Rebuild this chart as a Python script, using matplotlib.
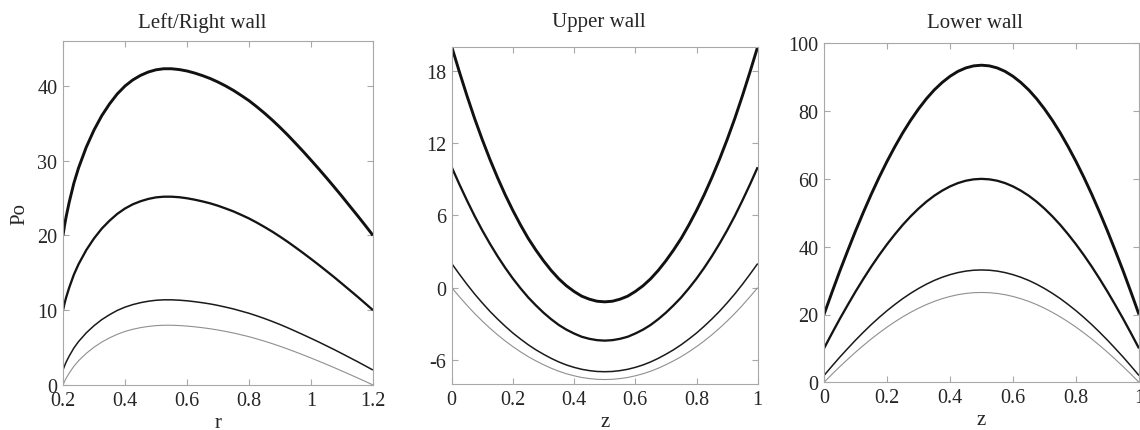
import matplotlib
matplotlib.use("Agg")
import matplotlib.pyplot as plt
from matplotlib.ticker import FuncFormatter

plt.rcParams['font.family'] = ['Liberation Serif', 'DejaVu Serif']
plt.rcParams['axes.unicode_minus'] = False

# ---- Left/Right wall: Po against r ----
r = [0.2, 0.205, 0.21, 0.22, 0.235, 0.25, 0.275, 0.3, 0.325, 0.35, 0.375, 0.4,
     0.425, 0.45, 0.475, 0.5, 0.525, 0.55, 0.575, 0.6, 0.625, 0.65, 0.675, 0.7,
     0.725, 0.75, 0.775, 0.8, 0.825, 0.85, 0.875, 0.9, 0.925, 0.95, 0.975, 1.0,
     1.025, 1.05, 1.075, 1.1, 1.125, 1.15, 1.175, 1.2]
lr_1 = [20, 21.34, 22.48, 24.44, 26.98, 29.01, 31.80, 34.09, 36.01, 37.58, 38.92, 39.98,
        40.79, 41.40, 41.85, 42.15, 42.29, 42.29, 42.18, 41.99, 41.71, 41.37, 40.98, 40.51,
        39.98, 39.39, 38.72, 38.02, 37.21, 36.35, 35.43, 34.45, 33.42, 32.33, 31.22, 30.07,
        28.90, 27.70, 26.47, 25.22, 23.93, 22.65, 21.34, 20]
lr_2 = [10, 10.91, 11.69, 13.02, 14.75, 16.14, 18.04, 19.60, 20.91, 21.97, 22.88, 23.60,
        24.16, 24.57, 24.88, 25.09, 25.18, 25.18, 25.11, 24.97, 24.78, 24.55, 24.29, 23.97,
        23.60, 23.21, 22.75, 22.27, 21.72, 21.13, 20.51, 19.84, 19.14, 18.40, 17.64, 16.86,
        16.06, 15.24, 14.41, 13.55, 12.68, 11.81, 10.91, 10]
lr_3 = [2, 2.56, 3.05, 3.87, 4.94, 5.80, 6.97, 7.93, 8.74, 9.40, 9.97, 10.41,
        10.75, 11.01, 11.20, 11.33, 11.39, 11.39, 11.34, 11.26, 11.14, 11.00, 10.84, 10.64,
        10.41, 10.17, 9.88, 9.59, 9.25, 8.89, 8.50, 8.09, 7.65, 7.19, 6.72, 6.24,
        5.75, 5.24, 4.73, 4.20, 3.66, 3.12, 2.56, 2]
lr_4 = [0, 0.48, 0.89, 1.59, 2.50, 3.23, 4.23, 5.05, 5.74, 6.30, 6.78, 7.16,
        7.45, 7.67, 7.83, 7.94, 7.99, 7.99, 7.95, 7.88, 7.78, 7.66, 7.52, 7.35,
        7.16, 6.95, 6.71, 6.46, 6.17, 5.86, 5.53, 5.18, 4.81, 4.42, 4.02, 3.61,
        3.19, 2.76, 2.32, 1.87, 1.41, 0.95, 0.48, 0]

# ---- Upper / Lower wall: Po against z ----
z = [0, 0.025, 0.05, 0.075, 0.1, 0.125, 0.15, 0.175, 0.2, 0.225, 0.25,
     0.275, 0.3, 0.325, 0.35, 0.375, 0.4, 0.425, 0.45, 0.475, 0.5,
     0.525, 0.55, 0.575, 0.6, 0.625, 0.65, 0.675, 0.7, 0.725, 0.75,
     0.775, 0.8, 0.825, 0.85, 0.875, 0.9, 0.925, 0.95, 0.975, 1.0]
up_1 = [20, 17.92, 15.92, 14.03, 12.28, 10.64, 9.12, 7.70, 6.40, 5.20, 4.09,
        3.12, 2.23, 1.43, 0.73, 0.15, -0.32, -0.71, -0.96, -1.13, -1.18,
        -1.13, -0.96, -0.71, -0.32, 0.15, 0.73, 1.43, 2.23, 3.12, 4.09,
        5.20, 6.40, 7.70, 9.12, 10.64, 12.28, 14.03, 15.92, 17.92, 20]
up_2 = [10, 8.58, 7.23, 5.94, 4.75, 3.64, 2.60, 1.64, 0.75, -0.06, -0.81,
        -1.47, -2.08, -2.62, -3.10, -3.49, -3.81, -4.08, -4.25, -4.36, -4.40,
        -4.36, -4.25, -4.08, -3.81, -3.49, -3.10, -2.62, -2.08, -1.47, -0.81,
        -0.06, 0.75, 1.64, 2.60, 3.64, 4.75, 5.94, 7.23, 8.58, 10]
up_3 = [2, 1.12, 0.27, -0.53, -1.27, -1.97, -2.61, -3.21, -3.77, -4.27, -4.74,
        -5.16, -5.53, -5.87, -6.17, -6.42, -6.62, -6.78, -6.89, -6.96, -6.98,
        -6.96, -6.89, -6.78, -6.62, -6.42, -6.17, -5.87, -5.53, -5.16, -4.74,
        -4.27, -3.77, -3.21, -2.61, -1.97, -1.27, -0.53, 0.27, 1.12, 2]
up_4 = [0, -0.75, -1.47, -2.15, -2.78, -3.37, -3.92, -4.43, -4.90, -5.33, -5.73,
        -6.08, -6.40, -6.69, -6.94, -7.15, -7.32, -7.46, -7.55, -7.61, -7.63,
        -7.61, -7.55, -7.46, -7.32, -7.15, -6.94, -6.69, -6.40, -6.08, -5.73,
        -5.33, -4.90, -4.43, -3.92, -3.37, -2.78, -2.15, -1.47, -0.75, 0]

lo_1 = [20, 26.47, 32.77, 38.76, 44.61, 50.16, 55.46, 60.46, 65.15, 69.51, 73.59,
        77.28, 80.63, 83.63, 86.24, 88.43, 90.26, 91.71, 92.73, 93.34, 93.54,
        93.34, 92.73, 91.71, 90.26, 88.43, 86.24, 83.63, 80.63, 77.28, 73.59,
        69.51, 65.15, 60.46, 55.46, 50.16, 44.61, 38.76, 32.77, 26.47, 20]
lo_2 = [10, 14.40, 18.68, 22.76, 26.74, 30.51, 34.12, 37.51, 40.70, 43.66, 46.44,
        48.95, 51.23, 53.27, 55.04, 56.53, 57.78, 58.76, 59.46, 59.87, 60.01,
        59.87, 59.46, 58.76, 57.78, 56.53, 55.04, 53.27, 51.23, 48.95, 46.44,
        43.66, 40.70, 37.51, 34.12, 30.51, 26.74, 22.76, 18.68, 14.40, 10]
lo_3 = [2, 4.74, 7.41, 9.94, 12.42, 14.77, 17.02, 19.13, 21.12, 22.96, 24.69,
        26.25, 27.67, 28.94, 30.05, 30.98, 31.75, 32.36, 32.80, 33.06, 33.14,
        33.06, 32.80, 32.36, 31.75, 30.98, 30.05, 28.94, 27.67, 26.25, 24.69,
        22.96, 21.12, 19.13, 17.02, 14.77, 12.42, 9.94, 7.41, 4.74, 2]
lo_4 = [0, 2.33, 4.60, 6.76, 8.87, 10.87, 12.78, 14.58, 16.27, 17.84, 19.31,
        20.64, 21.85, 22.93, 23.87, 24.66, 25.32, 25.84, 26.21, 26.43, 26.50,
        26.43, 26.21, 25.84, 25.32, 24.66, 23.87, 22.93, 21.85, 20.64, 19.31,
        17.84, 16.27, 14.58, 12.78, 10.87, 8.87, 6.76, 4.60, 2.33, 0]

titles = ["Left/Right wall", "Upper wall", "Lower wall"]
xlabels = ["r", "z", "z"]
xticks_lr = [0.2, 0.4, 0.6, 0.8, 1.0, 1.2]
xticks_z = [0, 0.2, 0.4, 0.6, 0.8, 1.0]
yticks_lr = [0, 10, 20, 30, 40]
yticks_up = [-6, 0, 6, 12, 18]
yticks_lo = [0, 20, 40, 60, 80, 100]

# line styles from the heaviest (top) curve down to the light grey one
styles = [dict(color="#111111", lw=2.1),
          dict(color="#141414", lw=1.65),
          dict(color="#1a1a1a", lw=1.1),
          dict(color="#8f8f8f", lw=0.8)]

fig = plt.figure(figsize=(11.4, 4.31), dpi=100)
W, H = 1140, 431
boxes = [(63, 373, 42, 386), (451.7, 757.7, 47.7, 385), (824, 1139, 44.3, 383.3)]
title_x = [202, 598.5, 974.5]
axes = []
for (x0, x1, y0, y1) in boxes:
    axes.append(fig.add_axes([x0 / W, (H - y1) / H, (x1 - x0) / W, (y1 - y0) / H]))

panels = [
    (axes[0], r, [lr_1, lr_2, lr_3, lr_4], (0.2, 1.2), (0, 46), xticks_lr, yticks_lr),
    (axes[1], z, [up_1, up_2, up_3, up_4], (0, 1), (-8, 20), xticks_z, yticks_up),
    (axes[2], z, [lo_1, lo_2, lo_3, lo_4], (0, 1), (0, 100), xticks_z, yticks_lo),
]

fmt = FuncFormatter(lambda v, _: "%g" % v)
text_col = "#262626"
spine_col = "#a8a8a8"

for i, (ax, x, curves, xl, yl, xt, yt) in enumerate(panels):
    for y, st in zip(curves, styles):
        ax.plot(x, y, solid_capstyle="butt", solid_joinstyle="round", **st)
    ax.set_xlim(*xl)
    ax.set_ylim(*yl)
    ax.set_xticks(xt)
    ax.set_yticks(yt)
    ax.xaxis.set_major_formatter(fmt)
    ax.yaxis.set_major_formatter(fmt)
    ax.tick_params(direction="in", length=4, width=0.8, color=spine_col,
                   labelsize=14.5, labelcolor=text_col, top=True, right=True, pad=4)
    for sp in ax.spines.values():
        sp.set_color(spine_col)
        sp.set_linewidth(0.8)
    fig.text(title_x[i] / W, 1 - 23 / H, titles[i], fontsize=15, color=text_col,
             ha="center", va="center")
    ax.set_xlabel(xlabels[i], fontsize=15, color=text_col, labelpad=2.5)

axes[0].set_ylabel("Po", fontsize=15, color=text_col, labelpad=6)

fig.savefig("out.png", dpi=100)
